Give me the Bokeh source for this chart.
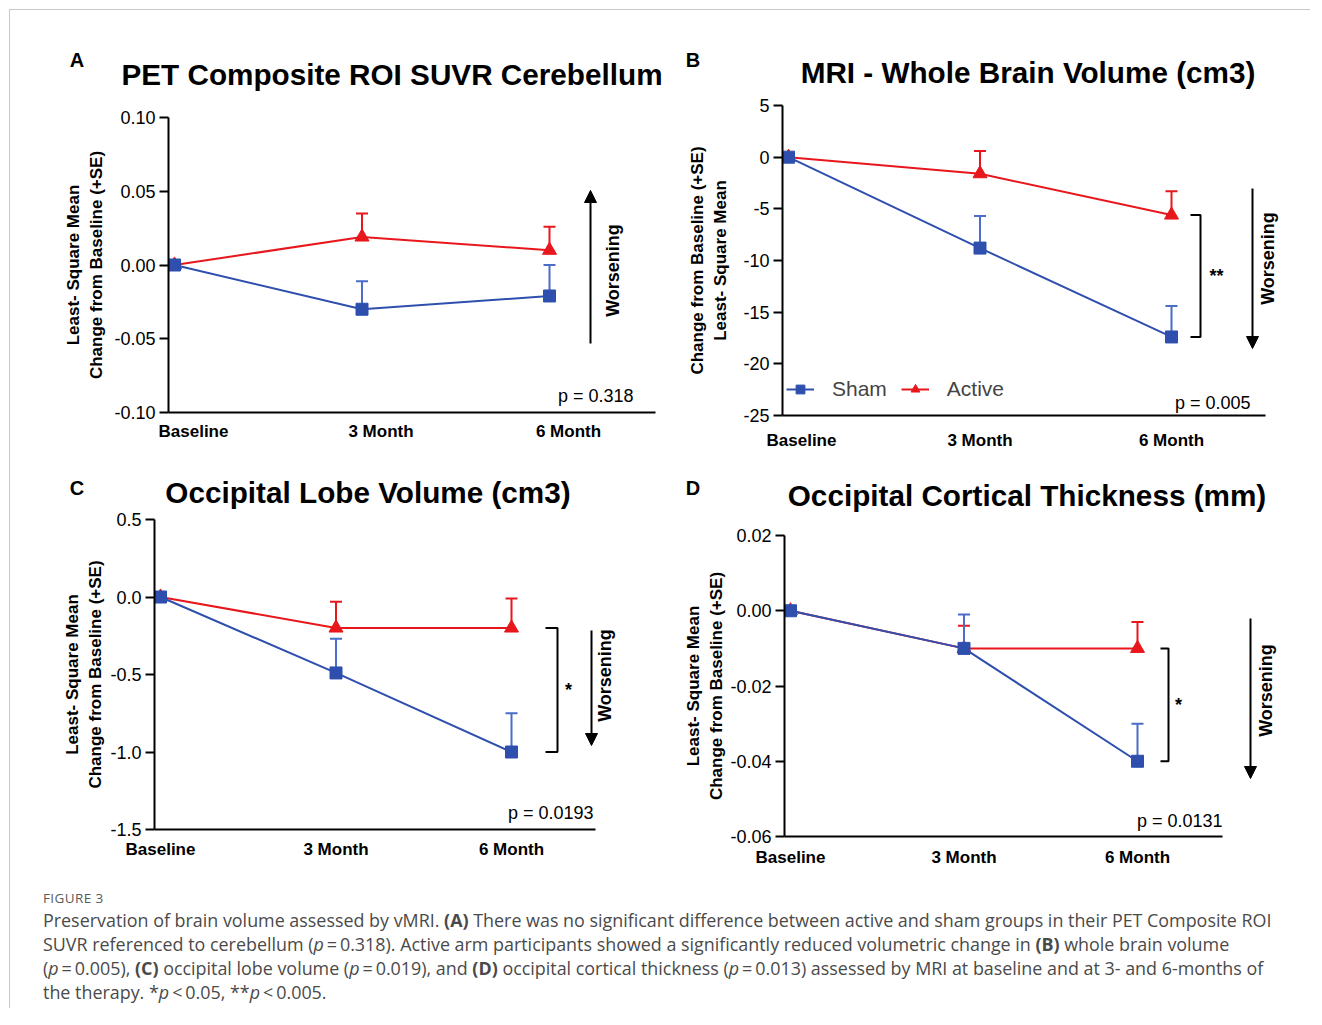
import math
from bokeh.plotting import figure
from bokeh.models import (Range1d, FixedTicker, NumeralTickFormatter, Label, Arrow,
                          NormalHead, Legend, LegendItem, Div)
from bokeh.layouts import column, row
from bokeh.embed import file_html
from bokeh.resources import INLINE

# ---------------- data ----------------
categories = ["Baseline", "3 Month", "6 Month"]
x_pos = [0, 1, 2]

a_sham = [0.0, -0.030, -0.021]
a_sham_se = [0.0, 0.019, 0.021]
a_active = [0.0, 0.019, 0.010]
a_active_se = [0.0, 0.016, 0.016]
a_yticks = [-0.10, -0.05, 0.0, 0.05, 0.10]

b_sham = [0.0, -8.8, -17.4]
b_sham_se = [0.0, 3.1, 3.0]
b_active = [0.0, -1.6, -5.6]
b_active_se = [0.0, 2.2, 2.3]
b_yticks = [-25, -20, -15, -10, -5, 0, 5]

c_sham = [0.0, -0.49, -1.00]
c_sham_se = [0.0, 0.22, 0.25]
c_active = [0.0, -0.20, -0.20]
c_active_se = [0.0, 0.17, 0.19]
c_yticks = [-1.5, -1.0, -0.5, 0.0, 0.5]

d_sham = [0.0, -0.010, -0.040]
d_sham_se = [0.0, 0.009, 0.010]
d_active = [0.0, -0.010, -0.010]
d_active_se = [0.0, 0.006, 0.007]
d_yticks = [-0.06, -0.04, -0.02, 0.0, 0.02]

letters = ["A", "B", "C", "D"]
titles = ["PET Composite ROI SUVR Cerebellum", "MRI - Whole Brain Volume (cm3)",
          "Occipital Lobe Volume (cm3)", "Occipital Cortical Thickness (mm)"]
p_texts = ["p = 0.318", "p = 0.005", "p = 0.0193", "p = 0.0131"]
sig_marks = ["", "**", "*", "*"]
series_names = ["Sham", "Active"]
ylab1 = "Least- Square Mean\nChange from Baseline (+SE)"
ylab2 = "Change from Baseline (+SE)\nLeast- Square Mean"

# ---------------- style ----------------
BLUE = "#2f4fae"
BLUE_BAR = "#4b6cc8"
RED = "#e8171c"
FONT = "Liberation Sans"


def panel(idx, sham, sham_se, active, active_se, yticks, yfmt, ylabel, L, legend=False):
    unit = L["unit"]
    fl = L["axis"] - 3
    fr = L["fright"]
    fw = fr - fl
    fh = L["bottom"] - L["top"]
    start = -6.0 / unit
    end = start + fw / unit
    axis_end = start + (L["right"] - fl) / unit
    y_fig0 = L["y0"] + L["head"]
    p = figure(frame_width=fw, frame_height=fh,
               min_border_left=fl - L["x0"], min_border_right=L["x1"] - fr,
               min_border_top=L["top"] - y_fig0, min_border_bottom=L["y1"] - L["bottom"],
               x_range=Range1d(start, end), y_range=Range1d(yticks[0], yticks[-1]),
               output_backend="svg", toolbar_location=None, title=None)
    p.grid.visible = False
    p.outline_line_color = None
    p.background_fill_color = "white"
    p.border_fill_color = "white"

    def sx(x):
        return x - fl

    def sy(y):
        return L["bottom"] - y

    # axes
    for ax in (p.xaxis[0], p.yaxis[0]):
        ax.axis_line_width = 2
        ax.axis_line_color = "black"
        ax.minor_tick_line_color = None
        ax.major_label_text_color = "black"
        ax.major_label_text_font = FONT
    xt = [x + o / unit for x, o in zip(x_pos, L["xoff"])]
    p.xaxis.bounds = (start, axis_end)
    p.xaxis.ticker = FixedTicker(ticks=xt)
    p.xaxis.major_label_overrides = {t: c for t, c in zip(xt, categories)}
    p.xaxis.major_tick_line_color = None
    p.xaxis.major_tick_out = 0
    p.xaxis.major_tick_in = 0
    p.xaxis.major_label_standoff = L["xstand"]
    p.xaxis.major_label_text_font_style = "bold"
    p.xaxis.major_label_text_font_size = "17px"

    p.yaxis.ticker = FixedTicker(ticks=yticks)
    p.yaxis.formatter = NumeralTickFormatter(format=yfmt)
    p.yaxis.major_tick_line_width = 2
    p.yaxis.major_tick_out = 9
    p.yaxis.major_tick_in = 0
    p.yaxis.major_label_standoff = 4
    p.yaxis.major_label_text_font_size = "18px"
    p.yaxis.axis_label = ylabel
    p.yaxis.axis_label_text_font = FONT
    p.yaxis.axis_label_text_font_style = "bold"
    p.yaxis.axis_label_text_font_size = "17px"
    p.yaxis.axis_label_text_line_height = 1.25
    p.yaxis.axis_label_text_color = "black"
    p.yaxis.axis_label_standoff = L["ylstand"]

    def series(vals, se, color, bar_color, marker, size):
        rl = p.line(x_pos, vals, line_color=color, line_width=2)
        xs = [x for x, s in zip(x_pos, se) if s > 0]
        y0 = [v for v, s in zip(vals, se) if s > 0]
        y1 = [v + s for v, s in zip(vals, se) if s > 0]
        p.segment(xs, y0, xs, y1, line_color=bar_color, line_width=2)
        p.scatter(xs, y1, marker="dash", size=12, line_color=bar_color, line_width=2)
        rm = p.scatter(x_pos, vals, marker=marker, size=size, fill_color=color, line_color=color)
        return rl, rm

    r_line, r_mark = series(active, active_se, RED, RED, "triangle", 14)
    b_line, b_mark = series(sham, sham_se, BLUE, BLUE_BAR, "square", 12)

    def label(**kw):
        kw.setdefault("text_font", FONT)
        kw.setdefault("text_color", "black")
        kw.setdefault("text_baseline", "middle")
        kw.setdefault("text_align", "center")
        p.add_layout(Label(**kw))

    # significance bracket at 6 Month
    if sig_marks[idx]:
        bx = 2 + L["br"] / unit
        tx = 2 + L["brt"] / unit
        ytop, ybot = active[2], sham[2]
        p.multi_line(xs=[[tx, bx, bx, tx]], ys=[[ytop, ytop, ybot, ybot]],
                     line_color="black", line_width=2)
        label(x=bx, y=(ytop + ybot) / 2, x_offset=L["sigoff"], text=sig_marks[idx],
              text_font_style="bold", text_font_size="18px")

    # p-value
    px_, py_ = L["p"]
    label(x=sx(px_), y=sy(py_), x_units="screen", y_units="screen", text=p_texts[idx],
          text_font_size="18px", text_align="right")

    # worsening arrow
    ax_, at, ah = L["arrow"]
    p.add_layout(Arrow(end=NormalHead(size=12, fill_color="black", line_color="black"),
                       x_start=sx(ax_), y_start=sy(at), x_end=sx(ax_), y_end=sy(ah),
                       start_units="screen", end_units="screen",
                       line_color="black", line_width=2))
    wx, wy = L["worse"]
    label(x=sx(wx), y=sy(wy), x_units="screen", y_units="screen", text="Worsening",
          angle=math.pi / 2, text_font_style="bold", text_font_size="18px")

    if legend:
        lg = Legend(items=[LegendItem(label=series_names[0], renderers=[b_line, b_mark]),
                           LegendItem(label=series_names[1], renderers=[r_line, r_mark])],
                    orientation="horizontal", location=(4, 14),
                    background_fill_alpha=0, border_line_color=None,
                    label_text_font=FONT, label_text_font_size="21px",
                    glyph_width=28, glyph_height=22, label_standoff=18, spacing=14,
                    padding=0, margin=0)
        p.add_layout(lg, "center")

    # header (panel letter + title)
    w = L["x1"] - L["x0"]
    lx, ly = L["letter"]
    tx_, ty_ = L["title"]
    head_html = (
        f'<div style="position:relative; width:{w}px; height:{L["head"]}px; font-family:\'{FONT}\'; color:black;">'
        f'<span style="position:absolute; left:{lx - L["x0"]}px; top:{ly - L["y0"]}px; '
        f'transform:translate(-50%,-50%); font-weight:bold; font-size:20px; line-height:1;">{letters[idx]}</span>'
        f'<span style="position:absolute; left:{tx_ - L["x0"]}px; top:{ty_ - L["y0"]}px; '
        f'transform:translate(-50%,-50%); font-weight:bold; font-size:29.7px; line-height:1; white-space:nowrap;">{titles[idx]}</span>'
        '</div>'
    )
    head = Div(text=head_html, width=w, height=L["head"], margin=0)
    return column(head, p, spacing=0)


LA = dict(x0=10, x1=670, y0=10, y1=460, head=95, axis=171, unit=187.5, right=655, fright=655,
          top=117, bottom=412, xoff=[19, 19, 19], xstand=9, ylstand=5, letter=(77, 60),
          title=(392, 75), p=(633, 395), arrow=(590, 343, 190), worse=(612, 270),
          br=0, brt=0, sigoff=0)
LB = dict(x0=670, x1=1310, y0=10, y1=460, head=85, axis=785, unit=191.5, right=1265, fright=1300,
          top=105, bottom=415, xoff=[13, 0, 0], xstand=15, ylstand=10, letter=(693, 60),
          title=(1028, 73), p=(1250, 402), arrow=(1252, 188, 348), worse=(1267, 258),
          br=29, brt=19, sigoff=16)
LC = dict(x0=10, x1=670, y0=460, y1=880, head=50, axis=157, unit=175.5, right=595, fright=640,
          top=519, bottom=829, xoff=[0, 0, 0], xstand=10, ylstand=2, letter=(77, 488),
          title=(368, 493), p=(593, 812), arrow=(591, 630, 745), worse=(604, 675),
          br=46, brt=34, sigoff=11)
LD = dict(x0=670, x1=1310, y0=460, y1=880, head=60, axis=787, unit=173.5, right=1222, fright=1300,
          top=535, bottom=836, xoff=[0, 0, 0], xstand=11, ylstand=1, letter=(693, 488),
          title=(1027, 496), p=(1222, 820), arrow=(1250, 618, 778), worse=(1265, 690),
          br=31, brt=23, sigoff=10)

pA = panel(0, a_sham, a_sham_se, a_active, a_active_se, a_yticks, "0.00", ylab1, LA)
pB = panel(1, b_sham, b_sham_se, b_active, b_active_se, b_yticks, "0", ylab2, LB, legend=True)
pC = panel(2, c_sham, c_sham_se, c_active, c_active_se, c_yticks, "0.0", ylab1, LC)
pD = panel(3, d_sham, d_sham_se, d_active, d_active_se, d_yticks, "0.00", ylab1, LD)

caption_lines = [
    "Preservation of brain volume assessed by vMRI. <b>(A)</b> There was no significant difference between active and sham groups in their PET Composite ROI",
    "SUVR referenced to cerebellum (<i>p</i>&#8201;=&#8201;0.318). Active arm participants showed a significantly reduced volumetric change in <b>(B)</b> whole brain volume",
    "(<i>p</i>&#8201;=&#8201;0.005), <b>(C)</b> occipital lobe volume (<i>p</i>&#8201;=&#8201;0.019), and <b>(D)</b> occipital cortical thickness (<i>p</i>&#8201;=&#8201;0.013) assessed by MRI at baseline and at 3- and 6-months of",
    "the therapy. *<i>p</i>&#8201;&lt;&#8201;0.05, **<i>p</i>&#8201;&lt;&#8201;0.005.",
]
caption_html = (
    '<div style="font-family: \'Open Sans\', sans-serif; color:#4a4a4a; padding:9px 0 0 33px;">'
    '<div style="font-size:13.5px; line-height:18px; letter-spacing:0.4px; color:#5a5a5a; margin-bottom:1px;">FIGURE 3</div>'
    '<div style="font-size:17.9px; line-height:24px; white-space:nowrap;">'
    + "<br>".join(caption_lines) + "</div></div>"
)
cap = Div(text=caption_html, width=1300, height=128, margin=0)

layout = column(row(pA, pB, spacing=0), row(pC, pD, spacing=0), cap, spacing=0,
                styles={"border-top": "1px solid #c8c8c8", "border-left": "1px solid #c8c8c8",
                        "margin": "9px 0 0 9px"})

open("out.html", "w").write(file_html(layout, INLINE))
